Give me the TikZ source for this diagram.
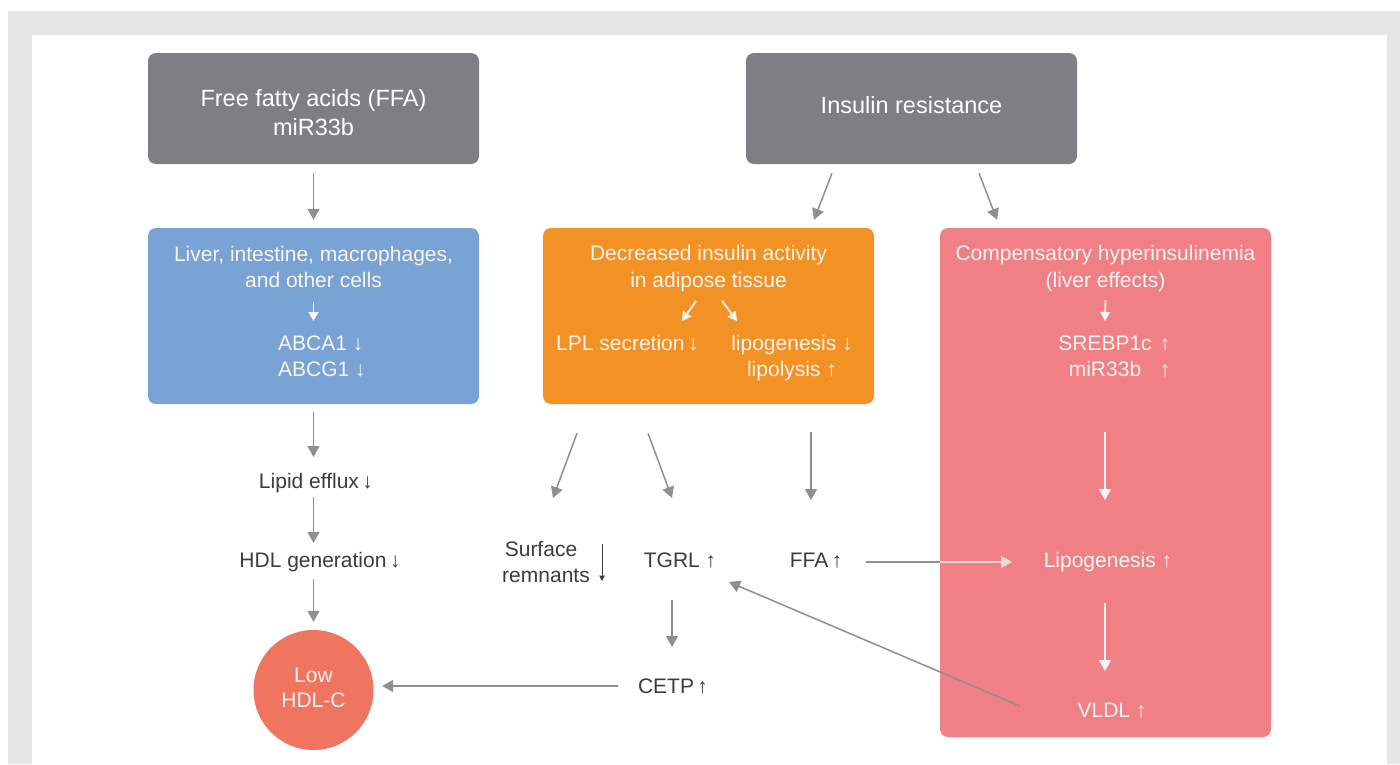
\documentclass[tikz,border=0pt]{standalone}
\usepackage{fontspec}
\setmainfont{Liberation Sans}
\usetikzlibrary{arrows.meta}
\definecolor{framegray}{HTML}{E6E6E6}
\definecolor{boxgray}{HTML}{7E7F82}
\definecolor{boxblue}{HTML}{78A3D4}
\definecolor{boxorange}{HTML}{F39224}
\definecolor{boxpink}{HTML}{F08085}
\definecolor{circred}{HTML}{EF7560}
\definecolor{arrgray}{HTML}{8E8F91}
\definecolor{txtdark}{HTML}{3C3C3C}
\definecolor{txtwhite}{HTML}{F8F4F2}
\definecolor{lightline}{HTML}{F6D9DB}
\begin{document}
\begin{tikzpicture}[x=1pt,y=-1pt,
  box/.style={rectangle,rounded corners=8pt,draw=none,inner sep=0pt,minimum width=331pt},
  bigtxt/.style={inner sep=0pt,anchor=base,text=white,font=\fontsize{23.5}{28}\selectfont},
  wtxt/.style={inner sep=0pt,anchor=base,text=txtwhite,font=\fontsize{21}{25}\selectfont},
  dtxt/.style={inner sep=0pt,anchor=base,text=txtdark,font=\fontsize{21}{25}\selectfont},
  arr/.style={draw=arrgray,line width=1.5pt,-{Triangle[length=11pt,width=12pt]}},
  warr/.style={draw=txtwhite,line width=1.5pt,-{Triangle[length=11pt,width=12pt]}},
  smallwarr/.style={draw=txtwhite,line width=1.8pt,-{Triangle[length=9pt,width=10pt]}},
  darr/.style={draw=txtdark,line width=1pt,-{Triangle[length=5.5pt,width=5.5pt]}}
]
\useasboundingbox (0,0) rectangle (1400,764);
\fill[white] (0,0) rectangle (1400,764);
\fill[framegray] (8,11) rectangle (1400,764);
\fill[white] (32,35) rectangle (1387,764);

% boxes
\node[box,fill=boxgray,minimum height=111pt] (ffabox) at (313.5,108.5) {};
\node[box,fill=boxgray,minimum height=111pt] (irbox) at (911.5,108.5) {};
\node[box,fill=boxblue,minimum height=176pt] (bluebox) at (313.5,316) {};
\node[box,fill=boxorange,minimum height=176pt] (orabox) at (708.5,316) {};
\node[box,fill=boxpink,minimum height=509pt] (pinkbox) at (1105.5,482.5) {};
\node[circle,fill=circred,minimum size=120pt,inner sep=0pt] (lowhdl) at (313.5,690) {};

% gray box texts
\node[bigtxt] (ffat1) at (313.5,106) {Free fatty acids (FFA)};
\node[bigtxt] (ffat2) at (313.5,135) {miR33b};
\node[bigtxt] (irt) at (911.5,113) {Insulin resistance};

% blue box texts
\node[wtxt] (bluet1) at (313.5,261) {Liver, intestine, macrophages,};
\node[wtxt] (bluet2) at (313.5,287) {and other cells};
\node[wtxt,anchor=base west] (abca) at (278,350) {ABCA1 ↓};
\node[wtxt,anchor=base west] (abcg) at (278,376) {ABCG1 ↓};

% orange box texts
\node[wtxt] (orat1) at (708.5,260) {Decreased insulin activity};
\node[wtxt] (orat2) at (708.5,287) {in adipose tissue};
\node[wtxt,anchor=base west] (lpl) at (556,350) {LPL secretion\,↓};
\node[wtxt] (lipog) at (792,350) {lipogenesis ↓};
\node[wtxt] (lipol) at (792,376) {lipolysis ↑};

% pink box texts
\node[wtxt] (pinkt1) at (1105.5,260) {Compensatory hyperinsulinemia};
\node[wtxt] (pinkt2) at (1105.5,287) {(liver effects)};
\node[wtxt] (sreb) at (1105,350) {SREBP1c};
\node[wtxt] (srebarr) at (1165,350) {↑};
\node[wtxt] (mirb) at (1105,376) {miR33b};
\node[wtxt] (mirbarr) at (1165,376) {↑};
\node[wtxt] (lipo) at (1108,567) {Lipogenesis ↑};
\node[wtxt] (vldl) at (1112,717) {VLDL ↑};

% circle texts
\node[wtxt] (lowt1) at (313.5,682) {Low};
\node[wtxt] (lowt2) at (313.5,707) {HDL-C};

% free labels
\node[dtxt] (eff) at (316,488) {Lipid efflux\,↓};
\node[dtxt] (hdlg) at (320,567) {HDL generation\,↓};
\node[dtxt] (surf1) at (541,556) {Surface};
\node[dtxt] (surf2) at (546,582) {remnants};
\node[dtxt] (tgrl) at (680,567) {TGRL ↑};
\node[dtxt] (ffa2) at (816,567) {FFA\,↑};
\node[dtxt] (cetp) at (673,693) {CETP\,↑};
\coordinate (ffaedge) at (940,562);

% connectors
\draw[arr] ([shift={(0,9)}]ffabox.south) -- ([shift={(0,-8)}]bluebox.north);
\draw[arr] ([shift={(-79.5,9)}]irbox.south) -- ([shift={(105.5,-8)}]orabox.north);
\draw[arr] ([shift={(67.5,9)}]irbox.south) -- ([shift={(-108.5,-8)}]pinkbox.north);
\draw[arr] ([shift={(0,8)}]bluebox.south) -- ([shift={(-2.5,-31)}]eff.base);
\draw[arr] ([shift={(-2.5,9)}]eff.base) -- ([shift={(-6.5,-24)}]hdlg.base);
\draw[arr] ([shift={(-6.5,12)}]hdlg.base) -- ([shift={(0,-8)}]lowhdl.north);
\draw[arr] ([shift={(-131.5,29)}]orabox.south) -- ([shift={(12,-58)}]surf1.base);
\draw[arr] ([shift={(-60.5,29)}]orabox.south) -- ([shift={(-8,-69)}]tgrl.base);
\draw[arr] ([shift={(102.5,28)}]orabox.south) -- ([shift={(-5,-67)}]ffa2.base);
\draw[arr] ([shift={(-8,33)}]tgrl.base) -- ([shift={(-1,-46)}]cetp.base);
\draw[arr] ([shift={(-55,-7)}]cetp.base) -- ([shift={(8.5,-4)}]lowhdl.east);
\draw[draw=arrgray,line width=1.5pt] ([shift={(50,-5)}]ffa2.base) -- (ffaedge);
\draw[draw=lightline,line width=1.5pt,-{Triangle[length=11pt,width=12pt]}] (ffaedge) -- ([shift={(-96,-5)}]lipo.base);
\draw[arr] ([shift={(-92,-11)}]vldl.base) -- ([shift={(49,15)}]tgrl.base);

% inner arrows
\draw[smallwarr] ([shift={(0,15)}]bluet2.base) -- ([shift={(35.5,-29)}]abca.base west);
\draw[smallwarr] ([shift={(-12.5,14)}]orat2.base) -- ([shift={(126,-29)}]lpl.base west);
\draw[smallwarr] ([shift={(13.5,14)}]orat2.base) -- ([shift={(-55,-29)}]lipog.base);
\draw[smallwarr] ([shift={(0,13)}]pinkt2.base) -- ([shift={(0,-29)}]sreb.base);
\draw[warr] ([shift={(0,56)}]mirb.base) -- ([shift={(-3,-67)}]lipo.base);
\draw[warr] ([shift={(-3,36)}]lipo.base) -- ([shift={(-7,-46)}]vldl.base);
\draw[darr] ([shift={(61,-12)}]surf1.base) -- ([shift={(56,-1)}]surf2.base);
\end{tikzpicture}
\end{document}
